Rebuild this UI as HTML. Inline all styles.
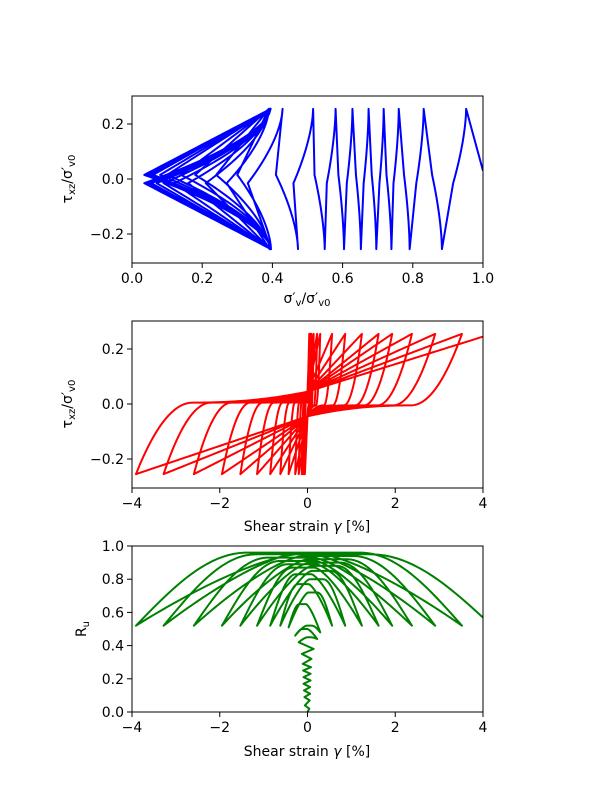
<!DOCTYPE html>
<html><head><meta charset="utf-8"><style>
html,body{margin:0;padding:0;background:#fff;}
svg{display:block;font-family:"DejaVu Sans","Liberation Sans",sans-serif;}
</style></head><body>
<svg id="fig" width="600" height="800" viewBox="0 0 600 800" xmlns="http://www.w3.org/2000/svg">
<defs>
<clipPath id="c1"><rect x="132" y="96" width="351" height="167"/></clipPath>
<clipPath id="c2"><rect x="132" y="321" width="351" height="167"/></clipPath>
<clipPath id="c3"><rect x="132" y="546" width="351" height="166"/></clipPath>
</defs>
<g id="ax1"></g>
<g id="ax2"></g>
<g id="ax3"></g>
<text transform="translate(72,179) rotate(-90)" text-anchor="middle" font-size="14">τ<tspan font-size="10" dy="3">xz</tspan><tspan dy="-3">/σ′</tspan><tspan font-size="10" dy="3">v0</tspan></text>
<text x="307" y="303" text-anchor="middle" font-size="14">σ′<tspan font-size="10" dy="3">v</tspan><tspan dy="-3">/σ′</tspan><tspan font-size="10" dy="3">v0</tspan></text>
<text transform="translate(72,404) rotate(-90)" text-anchor="middle" font-size="14">τ<tspan font-size="10" dy="3">xz</tspan><tspan dy="-3">/σ′</tspan><tspan font-size="10" dy="3">v0</tspan></text>
<text x="307" y="531" text-anchor="middle" font-size="14">Shear strain <tspan font-style="italic">γ</tspan> [%]</text>
<text transform="translate(86,629) rotate(-90)" text-anchor="middle" font-size="14">R<tspan font-size="10" dy="3">u</tspan></text>
<text x="307" y="756" text-anchor="middle" font-size="14">Shear strain <tspan font-style="italic">γ</tspan> [%]</text>
</svg>
<script>
// tip (turning point) data, index 0 = initial state
const tipSigma = [1.0, 0.952,0.883,0.831,0.791,0.760,0.739,0.717,0.696,0.674,0.652,0.628,0.604,0.580,0.549,0.516,0.473,0.429,0.396,
  0.39,0.392,0.39,0.393,0.39,0.394,0.392,0.395,0.393,0.396,0.394,0.396,0.394,0.396,0.395,0.396,0.395,0.396,0.395,0.396,0.395];
const tipTau = [0.03, 0.255,-0.255,0.255,-0.255,0.255,-0.255,0.255,-0.255,0.255,-0.255,0.255,-0.255,0.255,-0.255,0.255,-0.255,0.255,-0.255,
  0.255,-0.255,0.255,-0.255,0.255,-0.255,0.255,-0.255,0.255,-0.255,0.255,-0.255,0.255,-0.255,0.255,-0.255,0.255,-0.255,0.255,-0.255,0.255];
const tipStrain = [0, 0.04,-0.06,0.05,-0.07,0.06,-0.08,0.06,-0.09,0.07,-0.09,0.07,-0.10,0.08,-0.11,
  0.09,-0.13,0.14,-0.20,
  0.22,-0.28,0.29,-0.43,0.56,-0.62,0.86,-0.85,1.24,-1.15,1.62,-1.53,1.93,-1.95,2.38,-2.59,2.91,-3.28,3.52,-3.91,4.2];
const tipRu = [0, 0.02,0.04,0.07,0.09,0.11,0.13,0.15,0.17,0.19,0.21,0.23,0.25,0.27,0.29,
  0.32,0.35,0.38,0.42, 0.44,0.46,0.48,0.51,
  0.52,0.52,0.52,0.52,0.52,0.52,0.52,0.52,0.52,0.52,0.52,0.52,0.52,0.52,0.52,0.52,0.52];
// per half-cycle values (half k goes from tip k-1 to tip k)
const halfMinSigma = [0.975,0.915,0.855,0.81,0.775,0.745,0.725,0.705,0.683,0.66,0.638,0.612,0.588,0.555,0.52,0.46,0.41,0.33,
  0.30,0.27,0.24,0.21,0.18,0.16,0.14,0.12,0.10,0.09,0.08,0.07,0.06,0.055,0.05,0.045,0.04,0.04,0.035,0.035,0.035];
const halfRuPeak = [0,0,0,0,0,0,0,0,0,0,0,0,0,0,0,0,0,0,
  0.45,0.50,0.52,0.65,0.72,0.77,0.80,0.83,0.85,0.87,0.88,0.89,0.90,0.91,0.92,0.93,0.94,0.95,0.96,0.96,0.95];
const xTicks1 = [0,0.2,0.4,0.6,0.8,1.0];
const xTickLabels1 = ["0.0","0.2","0.4","0.6","0.8","1.0"];
const yTicksTau = [-0.2,0,0.2];
const yTickLabelsTau = ["\u22120.2","0.0","0.2"];
const xTicksStrain = [-4,-2,0,2,4];
const xTickLabelsStrain = ["\u22124","\u22122","0","2","4"];
const yTicksRu = [0,0.2,0.4,0.6,0.8,1.0];
const yTickLabelsRu = ["0.0","0.2","0.4","0.6","0.8","1.0"];

const NS="http://www.w3.org/2000/svg";
function el(tag,attrs,parent){const e=document.createElementNS(NS,tag);for(const k in attrs)e.setAttribute(k,attrs[k]);parent.appendChild(e);return e;}
const X1=v=>132+v*351, Y1=t=>179-t*275;
const X2=g=>307.5+g*43.875, Y2=t=>404-t*275;
const X3=g=>307.5+g*43.875, Y3=r=>712-r*166;

function axes(g,x0,y0,w,h,xt,xl,xf,yt,yl,yf){
  for(let i=0;i<xt.length;i++){const x=xf(xt[i]);
    const t=el('line',{x1:x,x2:x,y1:y0+h,y2:y0+h+5,stroke:'#000','stroke-width':1},g);
    
    
    const l=el('text',{x:x,y:y0+h+20,'text-anchor':'middle','font-size':14},g);l.textContent=xl[i];
    
    }
  for(let i=0;i<yt.length;i++){const y=yf(yt[i]);
    const t=el('line',{x1:x0-5,x2:x0,y1:y,y2:y,stroke:'#000','stroke-width':1},g);
    
    
    const l=el('text',{x:x0-8,y:y+5,'text-anchor':'end','font-size':14},g);l.textContent=yl[i];
    
    }
  const r=el('rect',{x:x0,y:y0,width:w,height:h,fill:'none',stroke:'#000','stroke-width':1},g);
  
  
}
const ax1=document.getElementById('ax1'),ax2=document.getElementById('ax2'),ax3=document.getElementById('ax3');

// ---- top: stress path
let p1=[];
for(let k=1;k<tipSigma.length;k++){
  const S0=tipSigma[k-1],T0=tipTau[k-1],S1=tipSigma[k],T1=tipTau[k],m=halfMinSigma[k-1];
  const sg=Math.sign(T1), z=0.015*sg;
  const N=30;
  if(k===1){for(let i=0;i<=N;i++){const q=i/N;p1.push([S0+(S1-S0)*q,T0+(T1-T0)*q]);}continue;}
  for(let i=0;i<=N;i++){const p=i/N;p1.push([S0+(m-S0)*Math.pow(p,1.3),T0+(z-T0)*Math.pow(p,0.8)]);}
  for(let i=1;i<=N;i++){const q=i/N;p1.push([m+(S1-m)*q,z+(T1-z)*q]);}
}
const path1=el('path',{d:'M'+p1.map(p=>X1(p[0]).toFixed(2)+','+Y1(p[1]).toFixed(2)).join('L'),fill:'none',stroke:'#0000ff','stroke-width':2,'stroke-linejoin':'round','clip-path':'url(#c1)'},ax1);


axes(ax1,132,96,351,167,xTicks1,xTickLabels1,X1,yTicksTau,yTickLabelsTau,Y1);

// ---- middle: stress-strain
let p2=[];
for(let k=1;k<tipStrain.length;k++){
  const g0=tipStrain[k-1],T0=tipTau[k-1],g1=tipStrain[k],T1=tipTau[k];
  const sg=Math.sign(T1), zA=0.005*sg, zB=zA+0.04*sg;
  const a=0.33*Math.abs(g0);
  const N=30;
  let gA=g0+sg*a;
  for(let i=0;i<=N;i++){const v=i/N;p2.push([g0+sg*a*v,T0+(zA-T0)*(1-Math.pow(1-v,2))]);}
  let gs=gA,ts=zA;
  if(sg*(0-gA)>0){for(let i=1;i<=N;i++){const w=i/N;p2.push([gA+(0-gA)*w,zA+(zB-zA)*Math.pow(w,2.2)]);}gs=0;ts=zB;}
  for(let i=1;i<=N;i++){const q=i/N;p2.push([gs+(g1-gs)*q,ts+(T1-ts)*q]);}
}
const path2=el('path',{d:'M'+p2.map(p=>X2(p[0]).toFixed(2)+','+Y2(p[1]).toFixed(2)).join('L'),fill:'none',stroke:'#ff0000','stroke-width':2,'stroke-linejoin':'round','clip-path':'url(#c2)'},ax2);


axes(ax2,132,321,351,167,xTicksStrain,xTickLabelsStrain,X2,yTicksTau,yTickLabelsTau,Y2);

// ---- bottom: Ru vs strain
let p3=[];
for(let k=1;k<tipStrain.length;k++){
  const g0=tipStrain[k-1],g1=tipStrain[k],R0=tipRu[k-1],R1=tipRu[k],P=halfRuPeak[k-1];
  const N=60, s1=0.45, s2=0.66;
  for(let i=(k===1?0:1);i<=N;i++){const s=i/N;let r;
    if(!P){r=R0+(R1-R0)*s;}
    else if(s<s1){r=R0+(P-R0)*(1-Math.pow(1-s/s1,1.4));}
    else if(s<s2){r=P;}
    else{const u=(s-s2)/(1-s2);r=R1+(P-R1)*Math.cos(Math.PI/2*u);}
    p3.push([g0+(g1-g0)*s,r]);}
}
const path3=el('path',{d:'M'+p3.map(p=>X3(p[0]).toFixed(2)+','+Y3(p[1]).toFixed(2)).join('L'),fill:'none',stroke:'#008000','stroke-width':2,'stroke-linejoin':'round','clip-path':'url(#c3)'},ax3);


axes(ax3,132,546,351,166,xTicksStrain,xTickLabelsStrain,X3,yTicksRu,yTickLabelsRu,Y3);
</script>
</body></html>
